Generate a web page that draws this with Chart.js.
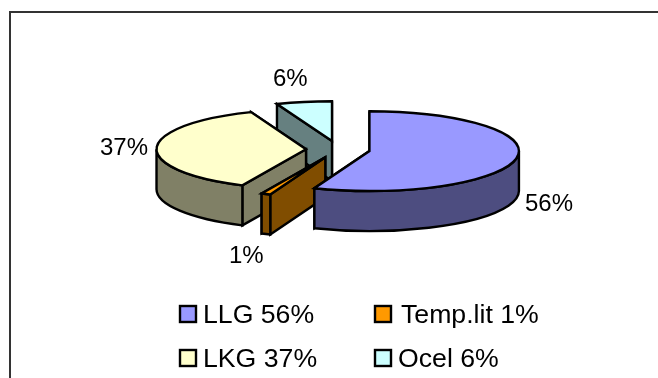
<!DOCTYPE html>
<html>
<head>
<meta charset="utf-8">
<title>LLG, Temp.lit, LKG, Ocel</title>
<style>
  html, body { margin: 0; padding: 0; background: #ffffff; }
  canvas { display: block; }
</style>
<script src="https://cdn.jsdelivr.net/npm/chart.js@4/dist/chart.umd.min.js"></script>
</head>
<body>
<canvas id="pieChart" width="658" height="378"></canvas>
<script>
const categories = ["LLG", "Temp.lit", "LKG", "Ocel"];
const shares = [56, 1, 37, 6];
const faceColors = ["#9999ff", "#ff9900", "#ffffcc", "#ccffff"];
const sideColors = ["#4d4d80", "#804d00", "#808066", "#668080"];

// Pie geometry: flattening of the disc, slice pull-out and rim height
const TILT = 0.267;
const EXPLODE = 32;
const DEPTH = 40;
const FONT = "Arial, 'Liberation Sans', sans-serif";

// Back slices first so the nearer ones cover them
const drawOrder = [3, 2, 1, 0];

// Text anchors for the percentage labels (left edge, baseline)
const labelSpots = [[525, 211], [229, 263], [100, 155], [273, 86]];

// Legend cells, two rows of two: swatch x, baseline, text x
const legendSpots = [[180, 323, 203], [375, 323, 401], [180, 367, 203], [375, 367, 398]];

function radialWall(ctx, cx, cy, r, angle) {
  const rimX = cx + Math.cos(angle) * r;
  const rimY = cy + Math.sin(angle) * r * TILT;
  ctx.beginPath();
  ctx.moveTo(cx, cy);
  ctx.lineTo(rimX, rimY);
  ctx.lineTo(rimX, rimY + DEPTH);
  ctx.lineTo(cx, cy + DEPTH);
  ctx.closePath();
  ctx.fill();
  ctx.stroke();
}

function drawSlice(ctx, arc, index) {
  const { x, y, startAngle, endAngle, outerRadius: r } = arc;
  const mid = (startAngle + endAngle) / 2;
  const cx = x + Math.cos(mid) * EXPLODE;
  const cy = y + Math.sin(mid) * EXPLODE * TILT;

  ctx.save();
  ctx.lineWidth = 2.4;
  ctx.strokeStyle = "#000000";
  ctx.fillStyle = sideColors[index];

  radialWall(ctx, cx, cy, r, endAngle);
  radialWall(ctx, cx, cy, r, startAngle);

  // Only the part of the rim on the near half of the ellipse shows
  const rimStart = Math.max(startAngle, 0);
  const rimEnd = Math.min(endAngle, Math.PI);
  if (rimEnd > rimStart) {
    ctx.beginPath();
    ctx.ellipse(cx, cy, r, r * TILT, 0, rimStart, rimEnd);
    ctx.ellipse(cx, cy + DEPTH, r, r * TILT, 0, rimEnd, rimStart, true);
    ctx.closePath();
    ctx.fill();
    ctx.stroke();
  }

  // Top face: the library's own arc, squashed onto the tilted disc
  ctx.save();
  ctx.translate(cx, cy);
  ctx.scale(1, TILT);
  ctx.translate(-x, -y);
  arc.draw(ctx);
  ctx.restore();

  ctx.beginPath();
  ctx.moveTo(cx, cy);
  ctx.ellipse(cx, cy, r, r * TILT, 0, startAngle, endAngle);
  ctx.closePath();
  ctx.stroke();
  ctx.restore();
}

const extrudedPie = {
  id: "extrudedPie",
  beforeDatasetsDraw(chart) {
    const arcs = chart.getDatasetMeta(0).data;
    drawOrder.forEach((i) => drawSlice(chart.ctx, arcs[i], i));
    return false;
  },
  afterDraw(chart) {
    const ctx = chart.ctx;
    ctx.save();

    // Chart frame, cut off by the page on the right and at the bottom
    ctx.strokeStyle = "#333333";
    ctx.lineWidth = 2;
    ctx.beginPath();
    ctx.moveTo(10, 378);
    ctx.lineTo(10, 12);
    ctx.lineTo(658, 12);
    ctx.stroke();

    ctx.fillStyle = "#000000";
    ctx.textBaseline = "alphabetic";
    ctx.font = "24px " + FONT;
    shares.forEach((v, i) => {
      ctx.fillText(v + "%", labelSpots[i][0], labelSpots[i][1]);
    });

    ctx.font = "26.67px " + FONT;
    categories.forEach((name, i) => {
      const [lx, base, textX] = legendSpots[i];
      ctx.fillStyle = faceColors[i];
      ctx.strokeStyle = "#000000";
      ctx.lineWidth = 2.4;
      ctx.fillRect(lx, base - 17, 16, 16);
      ctx.strokeRect(lx, base - 17, 16, 16);
      ctx.fillStyle = "#000000";
      ctx.fillText(name + " " + shares[i] + "%", textX, base);
    });
    ctx.restore();
  },
};

new Chart(document.getElementById("pieChart"), {
  type: "pie",
  data: {
    labels: categories,
    datasets: [
      {
        data: shares,
        backgroundColor: faceColors,
        borderWidth: 0,
      },
    ],
  },
  options: {
    responsive: false,
    animation: false,
    layout: { padding: { left: 38, right: 20, top: -1, bottom: 79 } },
    plugins: {
      legend: { display: false },
      tooltip: { enabled: false },
    },
  },
  plugins: [extrudedPie],
});
</script>
</body>
</html>
